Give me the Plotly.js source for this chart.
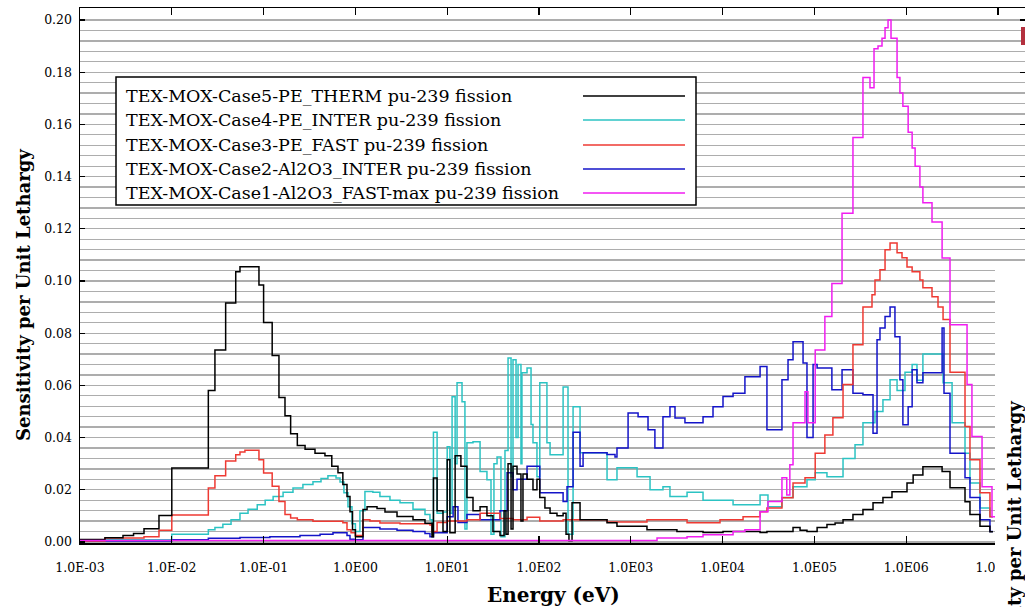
<!DOCTYPE html>
<html>
<head>
<meta charset="utf-8">
<script src="https://cdn.plot.ly/plotly-3.0.1.min.js"></script>
<style>
html,body{margin:0;padding:0;background:#ffffff;}
#chart{width:1025px;height:607px;}
</style>
</head>
<body>
<div id="chart"></div>
<script>
// ---------------- DATA ----------------
const seriesNames = [
  "TEX-MOX-Case5-PE_THERM pu-239 fission",
  "TEX-MOX-Case4-PE_INTER pu-239 fission",
  "TEX-MOX-Case3-PE_FAST pu-239 fission",
  "TEX-MOX-Case2-Al2O3_INTER pu-239 fission",
  "TEX-MOX-Case1-Al2O3_FAST-max pu-239 fission"
];

// Case5 PE_THERM (energy group lower bounds, eV) and sensitivity per unit lethargy
const energyCase5 = [1e-3,1.87e-3,2.94e-3,3.83e-3,4.98e-3,7.25e-3,1e-2,0.025,0.0295,0.0386,0.0497,0.0553,0.089,0.1,0.124,0.147,0.171,0.197,0.233,0.283,0.363,0.466,0.553,0.646,0.73,0.81,0.873,0.93,1.0,1.21,1.34,1.72,2.1,2.84,4.24,5.73,6.83,7.08,7.76,9.0,10,10.7,12.2,14.1,16.4,19.1,22.8,27.1,31.5,37.6,41.6,43.7,46,49.6,52.1,57.6,63.6,66.9,74.1,86,95,102,116,132,157,183,197,212,229,280,551,707,1500,3180,6120,1.01e4,2.56e4,3.04e4,5.85e4,6.98e4,8.3e4,1.07e5,1.37e5,1.68e5,2.05e5,2.63e5,3.38e5,4.35e5,5.58e5,7.0e5,1.02e6,1.19e6,1.52e6,2.46e6,3.0e6,4.37e6,4.95e6,6.36e6,8.17e6,8.8e6];
const sensCase5 = [0.0009,0.0016,0.0025,0.0032,0.0051,0.0101,0.0283,0.058,0.0736,0.0916,0.1035,0.1055,0.0985,0.0841,0.0714,0.0554,0.0484,0.0415,0.037,0.0355,0.034,0.033,0.029,0.0265,0.022,0.0174,0.0116,0.0047,0.002,0.0124,0.0135,0.0128,0.0115,0.0098,0.0085,0.0072,0.002,0.0245,0.012,0.004,0.0315,0.0035,0.033,0.029,0.017,0.012,0.0135,0.01,0.004,0.0025,0.012,0.003,0.03,0.005,0.029,0.026,0.008,0.026,0.024,0.02,0.024,0.017,0.013,0.011,0.01,0.011,0.003,0.0005,0.015,0.0085,0.0074,0.006,0.0047,0.004,0.0036,0.004,0.0036,0.004,0.0055,0.0045,0.004,0.0055,0.0067,0.0073,0.0085,0.0105,0.0124,0.015,0.017,0.0192,0.0226,0.0257,0.0288,0.027,0.0208,0.0154,0.0105,0.006,0.0039,0.0039];

// Case4 PE_INTER
const energyCase4 = [1e-3,1.87e-3,1e-2,0.025,0.0295,0.036,0.0442,0.0553,0.0677,0.0853,0.104,0.127,0.163,0.209,0.268,0.345,0.422,0.502,0.615,0.68,0.75,0.83,0.918,1.0,1.12,1.27,1.55,1.85,2.38,3.06,4.24,5.73,6.49,6.83,7.08,7.76,9.0,10,10.7,11.3,12.2,12.8,14.5,15.6,16.4,19.1,22.8,27.1,30,32.3,34.9,38.5,42.6,46,49.6,52.1,56.2,59.1,63.6,65.2,74.1,81.9,86,95,102,122,132,183,207,235,280,551,707,1170,1620,2240,2670,4100,6120,1.3e4,2.56e4,3.12e4,4.43e4,5.85e4,8.3e4,1.02e5,1.37e5,2.05e5,2.77e5,3.38e5,4.57e5,5.58e5,6.67e5,7.95e5,9.7e5,1.16e6,1.31e6,1.52e6,2.52e6,3.16e6,4.37e6,4.95e6,6.36e6,8.17e6,8.8e6];
const sensCase4 = [0.0003,0.0008,0.003,0.0047,0.0055,0.0068,0.0085,0.011,0.0125,0.0143,0.016,0.0174,0.019,0.0207,0.022,0.0231,0.0243,0.0254,0.0245,0.023,0.0189,0.0135,0.007,0.004,0.012,0.0193,0.019,0.0174,0.016,0.015,0.0125,0.0105,0.0085,0.003,0.042,0.011,0.0115,0.0365,0.011,0.0556,0.03,0.061,0.0537,0.005,0.038,0.0384,0.027,0.0238,0.003,0.03,0.0326,0.002,0.035,0.0705,0.025,0.0698,0.04,0.068,0.03,0.0648,0.0667,0.045,0.038,0.025,0.061,0.038,0.0334,0.0594,0.003,0.0518,0.0342,0.0238,0.0284,0.025,0.02,0.0212,0.0174,0.019,0.016,0.0143,0.018,0.0135,0.017,0.0212,0.0238,0.0265,0.025,0.032,0.0372,0.0457,0.05,0.0545,0.0622,0.058,0.065,0.068,0.062,0.072,0.061,0.0457,0.034,0.0226,0.013,0.0097,0.0097];

// Case3 PE_FAST
const energyCase3 = [1e-3,1.87e-3,4.98e-3,7.25e-3,1e-2,0.025,0.0295,0.0386,0.0497,0.0553,0.0626,0.089,0.1,0.124,0.147,0.171,0.197,0.233,0.345,0.73,0.81,0.896,1.0,1.21,1.44,1.85,3.06,6.49,6.83,7.76,10,16.4,22.8,37.6,52.1,74.1,102,183,280,551,1500,4100,9370,1.67e4,2.56e4,3.04e4,4.43e4,5.85e4,7.9e4,1.02e5,1.3e5,1.59e5,2.05e5,2.63e5,3.38e5,4.24e5,4.57e5,5.18e5,5.88e5,6.67e5,7.95e5,9.0e5,1.02e6,1.16e6,1.41e6,1.52e6,1.91e6,2.22e6,2.52e6,3.0e6,4.37e6,4.95e6,6.36e6,8.17e6,8.8e6];
const sensCase3 = [0.0004,0.0015,0.002,0.0045,0.0103,0.0207,0.0254,0.031,0.0334,0.0345,0.0351,0.0315,0.0264,0.0213,0.0155,0.0105,0.0092,0.0085,0.0079,0.0074,0.0047,0.0035,0.0025,0.0085,0.008,0.0073,0.007,0.0065,0.004,0.0075,0.008,0.0085,0.011,0.009,0.0085,0.0095,0.008,0.0085,0.0085,0.0076,0.0085,0.0074,0.0085,0.0097,0.0116,0.013,0.0169,0.0226,0.0246,0.034,0.041,0.0476,0.0603,0.0756,0.09,0.0947,0.1004,0.1043,0.112,0.1146,0.1108,0.1089,0.1054,0.1035,0.1004,0.0974,0.094,0.09,0.0852,0.065,0.0442,0.0315,0.0189,0.0097,0.0097];

// Case2 Al2O3_INTER
const energyCase2 = [1e-3,1e-2,0.025,0.0553,0.117,0.249,0.412,0.57,0.81,0.873,1.0,1.21,1.44,1.85,2.84,4.24,5.73,6.49,7.08,10,11.6,13.1,16.4,22.8,37.6,44.9,52.1,57.6,74.1,102,183,202,235,280,302,551,673,707,934,1200,1540,1830,2240,2670,3030,3890,6120,7860,1.01e4,1.3e4,1.75e4,2.56e4,3.04e4,4.43e4,5.16e4,5.85e4,7.52e4,8.3e4,9.67e4,1.07e5,1.55e5,2.0e5,2.63e5,3.38e5,4.35e5,4.81e5,5.18e5,5.88e5,6.67e5,7.54e5,8.54e5,9.2e5,1.05e6,1.16e6,1.31e6,1.52e6,2.46e6,2.58e6,3.0e6,4.37e6,4.95e6,6.36e6,8.17e6,8.8e6];
const sensCase2 = [0.0004,0.0008,0.0014,0.0017,0.002,0.0025,0.003,0.0035,0.0025,0.001,0.0008,0.0055,0.0055,0.005,0.0045,0.004,0.0032,0.002,0.0035,0.0097,0.0135,0.0075,0.0105,0.0085,0.012,0.0265,0.02,0.024,0.029,0.0189,0.0155,0.0212,0.042,0.029,0.0342,0.0335,0.0326,0.036,0.0494,0.048,0.043,0.036,0.048,0.0518,0.0475,0.0457,0.048,0.0518,0.0557,0.057,0.0633,0.0672,0.043,0.0622,0.0698,0.0767,0.0686,0.04,0.068,0.0667,0.0583,0.066,0.057,0.0564,0.0417,0.0775,0.082,0.0864,0.09,0.0786,0.0622,0.0449,0.0518,0.066,0.061,0.0648,0.082,0.057,0.034,0.0246,0.017,0.0085,0.004,0.004];

// Case1 Al2O3_FAST-max
const energyCase1 = [1e-3,1930,4100,6120,1.3e4,1.75e4,2.56e4,3.12e4,4.43e4,5.0e4,5.4e4,5.85e4,7.9e4,8.5e4,1.02e5,1.3e5,1.55e5,2.0e5,2.63e5,3.38e5,4.03e5,4.46e5,4.93e5,5.45e5,5.88e5,6.34e5,6.83e5,7.95e5,8.54e5,9.2e5,1.05e6,1.16e6,1.25e6,1.41e6,1.52e6,1.91e6,2.46e6,3.0e6,4.6e6,5.2e6,6.7e6,8.6e6,9.3e6];
const sensCase1 = [0.0006,0.0015,0.002,0.0028,0.004,0.0047,0.0116,0.0155,0.0246,0.018,0.0296,0.0457,0.0576,0.0457,0.0736,0.0864,0.099,0.126,0.155,0.178,0.174,0.189,0.19,0.193,0.197,0.2,0.193,0.178,0.172,0.167,0.157,0.151,0.144,0.136,0.13,0.1226,0.1088,0.0832,0.0603,0.0404,0.0212,0.0097,0.0097];

const xTickVals = [1e-3,1e-2,1e-1,1e0,1e1,1e2,1e3,1e4,1e5,1e6,1e7];
const xTickText = ["1.0E-03","1.0E-02","1.0E-01","1.0E00","1.0E01","1.0E02","1.0E03","1.0E04","1.0E05","1.0E06","1.0E07"];

// ---------------- STYLE / LAYOUT ----------------
const colors = ["#000000", "#2cc3c3", "#ee3a33", "#1414c8", "#f01ef0"];
const allE = [energyCase5, energyCase4, energyCase3, energyCase2, energyCase1];
const allS = [sensCase5, sensCase4, sensCase3, sensCase2, sensCase1];
const drawOrder = [1, 3, 2, 0, 4];

const W = 1025, H = 607, ML = 80, MR = 0, MT = 8, MB = 64;
const px = x => (x - ML) / (W - ML - MR);
const py = y => (H - MB - y) / (H - MT - MB);
const serif = "DejaVu Serif";

const traces = drawOrder.map(i => ({
  x: allE[i], y: allS[i], type: "scatter", mode: "lines",
  line: {shape: "hv", color: colors[i], width: 1.5},
  name: seriesNames[i], hoverinfo: "skip", cliponaxis: true
}));

const minorVals = [];
for (let k = 0; k <= 50; k++) minorVals.push(+(k * 0.004).toFixed(3));

const shapes = [];
const annotations = [];

// legend box
shapes.push({type: "rect", xref: "paper", yref: "paper", x0: px(116), x1: px(696), y0: py(205), y1: py(77),
  fillcolor: "#ffffff", line: {color: "#000", width: 1.5}, layer: "above"});
const legendY = [96, 120, 145, 169, 193];
seriesNames.forEach((nm, i) => {
  annotations.push({xref: "paper", yref: "paper", x: px(124), y: py(legendY[i]), xanchor: "left", yanchor: "middle",
    text: nm, showarrow: false, font: {family: serif, size: 17.5, color: "#000"}});
  shapes.push({type: "line", xref: "paper", yref: "paper", x0: px(583), x1: px(685), y0: py(legendY[i]), y1: py(legendY[i]),
    line: {color: colors[i], width: 1.5}, layer: "above"});
});

// overlapping piece at right edge (from a neighbouring figure)
shapes.push({type: "rect", xref: "paper", yref: "paper", x0: px(995), x1: 1.02, y0: -0.2, y1: py(268),
  fillcolor: "#ffffff", line: {width: 0}, layer: "above"});
shapes.push({type: "rect", xref: "paper", yref: "paper", x0: px(1021), x1: 1.01, y0: py(45), y1: py(27),
  fillcolor: "#b3303e", line: {width: 0}, layer: "above"});

// axis titles
annotations.push({xref: "paper", yref: "paper", x: px(23), y: py(295), textangle: -90, xanchor: "center", yanchor: "middle",
  text: "Sensitivity per Unit Lethargy", showarrow: false, font: {family: serif, size: 18, weight: "bold", color: "#000"}});
annotations.push({xref: "paper", yref: "paper", x: px(553), y: py(595), xanchor: "center", yanchor: "middle",
  text: "Energy (eV)", showarrow: false, font: {family: serif, size: 20, weight: "bold", color: "#000"}});
annotations.push({xref: "paper", yref: "paper", x: px(1014), y: py(547), textangle: -90, xanchor: "center", yanchor: "middle",
  text: "Sensitivity per Unit Lethargy", showarrow: false, font: {family: serif, size: 18, weight: "bold", color: "#000"}});

const layout = {
  width: W, height: H,
  margin: {l: ML, r: MR, t: MT, b: MB, pad: 0},
  paper_bgcolor: "#ffffff", plot_bgcolor: "#ffffff",
  showlegend: false,
  xaxis: {
    type: "log", range: [-3, 7.294],
    tickmode: "array", tickvals: xTickVals, ticktext: xTickText,
    ticks: "inside", ticklen: 7, tickwidth: 1.2, tickcolor: "#000",
    showline: true, linecolor: "#000", linewidth: 1.5, mirror: "ticks",
    showgrid: false, zeroline: false,
    tickfont: {family: serif, size: 12.5, color: "#000"},
    ticklabelstandoff: 12
  },
  yaxis: {
    range: [-0.0004, 0.2046],
    tick0: 0, dtick: 0.02, tickformat: ".2f",
    ticks: "inside", ticklen: 5, tickwidth: 1.2, tickcolor: "#000",
    showline: true, linecolor: "#000", linewidth: 1.5, mirror: "ticks",
    showgrid: true, gridcolor: "#adadad", gridwidth: 1.3,
    minor: {tickmode: "array", tickvals: minorVals, showgrid: true, gridcolor: "#adadad", gridwidth: 1.3, ticks: ""},
    zeroline: false,
    tickfont: {family: serif, size: 12.5, color: "#000"},
    ticklabelstandoff: 4
  },
  shapes: shapes,
  annotations: annotations
};

Plotly.newPlot("chart", traces, layout, {displayModeBar: false, staticPlot: true});
</script>
</body>
</html>
